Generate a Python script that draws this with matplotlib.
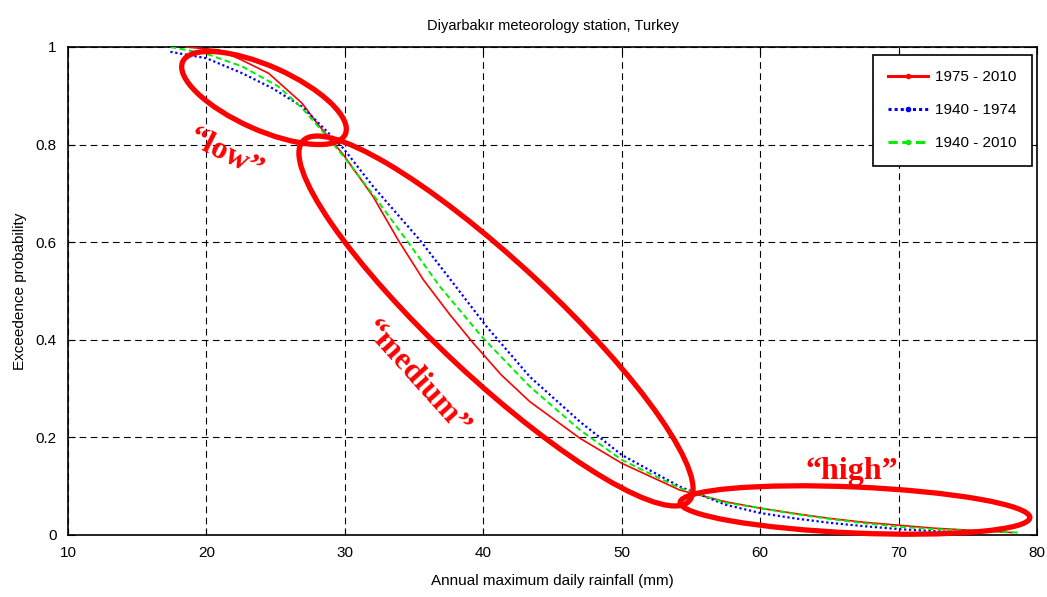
import matplotlib
matplotlib.use("Agg")
import matplotlib.pyplot as plt
from matplotlib.patches import Ellipse
from matplotlib.lines import Line2D
from matplotlib.transforms import IdentityTransform

# data
x_1975 = [18.5, 20.9, 22.5, 24.5, 26.9, 28.1, 29.9, 32.05, 33.86, 35.67, 37.6, 39.28,
          41.3, 43.37, 46.99, 50, 54.2, 57.5, 60, 62.5, 65, 67.5, 70, 72.5, 75, 78.2]
p_1975 = [1.0, 0.994, 0.974, 0.946, 0.885, 0.84, 0.779, 0.693, 0.604, 0.523, 0.451,
          0.393, 0.328, 0.273, 0.198, 0.147, 0.092, 0.068, 0.055, 0.044, 0.034, 0.026,
          0.02, 0.014, 0.01, 0.005]

x_1940 = [17.4, 20, 22.6, 24.8, 26.9, 28.6, 29.9, 32.05, 35.43, 37.83, 40.24, 43.37,
          46.99, 50, 54.2, 57.5, 60, 62.5, 65, 67.5, 70, 72.5, 76]
p_1940 = [0.99, 0.977, 0.946, 0.915, 0.878, 0.83, 0.792, 0.714, 0.604, 0.516, 0.427,
          0.324, 0.232, 0.164, 0.099, 0.062, 0.045, 0.034, 0.025, 0.018, 0.012, 0.008,
          0.004]

x_all = [17.4, 20, 22.6, 25.2, 26.9, 28.6, 29.9, 32.05, 34.46, 36.87, 40, 43.37,
         46.99, 50, 54.2, 57.5, 60, 62.5, 65, 67.5, 70, 72.5, 75, 78.6]
p_all = [1.0, 0.986, 0.96, 0.919, 0.875, 0.82, 0.776, 0.697, 0.604, 0.509, 0.403,
         0.304, 0.215, 0.154, 0.096, 0.066, 0.055, 0.043, 0.033, 0.024, 0.017, 0.012,
         0.009, 0.005]

labels = ["1975 - 2010", "1940 - 1974", "1940 - 2010"]

plt.rcParams['font.family'] = ['Liberation Sans', 'DejaVu Sans']

fig = plt.figure(figsize=(10.47, 5.97), dpi=100)
ax = fig.add_axes([0.0649, 0.1039, 0.9256, 0.8174])

ax.plot(x_1975, p_1975, color='#ff0000', lw=1.2, zorder=3)
ax.plot(x_1940, p_1940, color='#0000ff', lw=1.6, ls=(0, (1, 1.2)), zorder=3)
ax.plot(x_all, p_all, color='#00ee00', lw=1.4, ls=(0, (3, 1.8)), zorder=3)

ax.set_xlim(10, 80)
ax.set_ylim(0, 1)
ax.set_xticks(range(10, 81, 10))
ax.set_yticks([0, 0.2, 0.4, 0.6, 0.8, 1])
ax.set_yticklabels(["0", "0.2", "0.4", "0.6", "0.8", "1"])
ax.tick_params(direction='in', top=True, right=True, labelsize=11, length=5, pad=8)
ax.grid(True, color='black', ls=(0, (6, 4)), lw=0.8)
for s in ax.spines.values():
    s.set_linewidth(1.2)

ax.set_title("Diyarbakır meteorology station, Turkey", fontsize=10.5, pad=12)
ax.set_xlabel("Annual maximum daily rainfall (mm)", fontsize=11, labelpad=10)
ax.set_ylabel("Exceedence probability", fontsize=11, labelpad=6)

handles = [
    Line2D([], [], color='#ff0000', lw=2.2, marker='.', markersize=6),
    Line2D([], [], color='#0000ff', lw=2.2, ls=(0, (1, 1)), marker='.', markersize=6),
    Line2D([], [], color='#00ee00', lw=2.2, ls=(0, (3, 1.5)), marker='.', markersize=6),
]
leg = ax.legend(handles, labels, loc='upper right', fontsize=11, fancybox=False,
                framealpha=1, edgecolor='black', handlelength=2.6, handletextpad=0.5,
                borderpad=1.0, labelspacing=1.25, borderaxespad=0,
                bbox_to_anchor=(0.9948, 0.9836))
leg.get_frame().set_linewidth(1.2)

# red ellipses, in pixels (image y measured from top)
H = 597
ells = [
    (264, 98, 178, 64, 24),
    (496, 321, 528, 116, 43),
    (855, 510, 350, 46, 2.5),
]
for cx, cy, w, h, ang in ells:
    e = Ellipse((cx, H - cy), w, h, angle=-ang, fill=False, edgecolor='#ff0000',
                lw=3.8, transform=IdentityTransform(), clip_on=False, zorder=5)
    fig.add_artist(e)

serif = dict(color='#ff0000', fontweight='bold', fontsize=23,
             family=['Liberation Serif', 'DejaVu Serif'],
             ha='center', va='center', rotation_mode='anchor')
ax.text(21.4, 0.78, "\u201clow\u201d", rotation=-27, **serif)
ax.text(35.15, 0.32, "\u201cmedium\u201d", rotation=-48, **serif)
ax.text(66.6, 0.131, "\u201chigh\u201d", rotation=0, **serif)

fig.savefig("out.png", dpi=100)
